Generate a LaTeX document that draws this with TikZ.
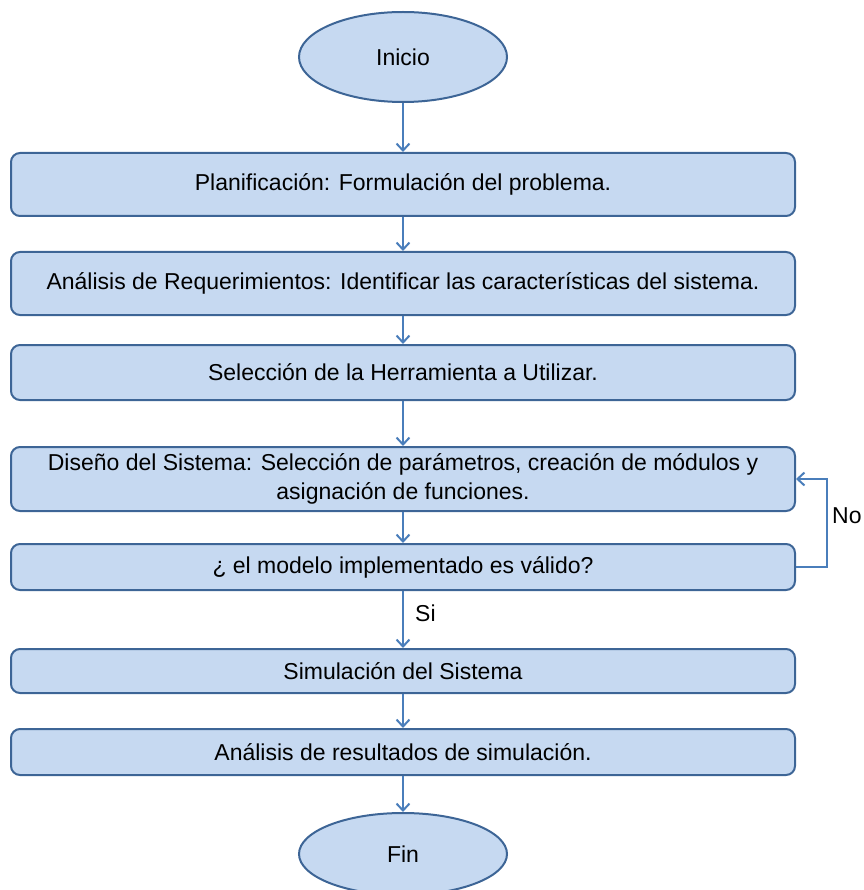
\documentclass[tikz,border=0pt]{standalone}
\usepackage{fontspec}
\setmainfont{Liberation Sans}
\usetikzlibrary{arrows.meta,shapes.geometric}
\definecolor{boxfill}{HTML}{C6D9F1}
\definecolor{boxline}{HTML}{3D6596}
\definecolor{flowline}{HTML}{4A7EBB}
\begin{document}
\begin{tikzpicture}[x=1pt,y=-1pt,
  font=\fontsize{23}{29}\selectfont,
  stepbox/.style={draw=boxline, fill=boxfill, line width=2pt, rounded corners=9pt,
    minimum width=784pt, align=center, inner sep=0pt},
  terminal/.style={ellipse, draw=boxline, fill=boxfill, line width=2pt,
    minimum width=208pt, inner sep=0pt},
  flow/.style={draw=flowline, line width=2pt,
    -{Straight Barb[length=7pt,width=13pt,line width=2pt]}},
  tag/.style={anchor=west, inner sep=0pt}]
\useasboundingbox (0,0) rectangle (863,890);

% start / end terminals
\node[terminal, minimum height=90pt] (inicio) at (403,57) {Inicio};
\node[terminal, minimum height=82pt] (fin) at (403,854) {Fin};

% process steps
\node[stepbox, minimum height=63pt] (plan) at (403,184.5) {Planificación: Formulación del problema.};
\node[stepbox, minimum height=63pt] (req) at (403,283.5) {Análisis de Requerimientos: Identificar las características del sistema.};
\node[stepbox, minimum height=55pt] (herr) at (403,372.5) {Selección de la Herramienta a Utilizar.};
\node[stepbox, minimum height=64pt] (dis) at (403,479) {Diseño del Sistema: Selección de parámetros, creación de módulos y\\asignación de funciones.};
\node[stepbox, minimum height=46pt] (val) at (403,567) {¿ el modelo implementado es válido?};
\node[stepbox, minimum height=44pt] (sim) at (403,671) {Simulación del Sistema};
\node[stepbox, minimum height=46pt] (res) at (403,752) {Análisis de resultados de simulación.};

% main flow
\draw[flow] (inicio.south) -- (plan.north);
\draw[flow] (plan.south) -- (req.north);
\draw[flow] (req.south) -- (herr.north);
\draw[flow] (herr.south) -- (dis.north);
\draw[flow] (dis.south) -- (val.north);
\draw[flow] (val.south) -- (sim.north);
\draw[flow] (sim.south) -- (res.north);
\draw[flow] (res.south) -- (fin.north);

% loop back when the model is not valid
\coordinate (loopx) at (827,0);
\draw[flow] (val.east) -- (val.east -| loopx) -- (dis.east -| loopx) -- (dis.east);

% branch labels
\node[tag] (si) at (415,613) {Si};
\node[tag] (no) at (832,516) {No};
\end{tikzpicture}
\end{document}
